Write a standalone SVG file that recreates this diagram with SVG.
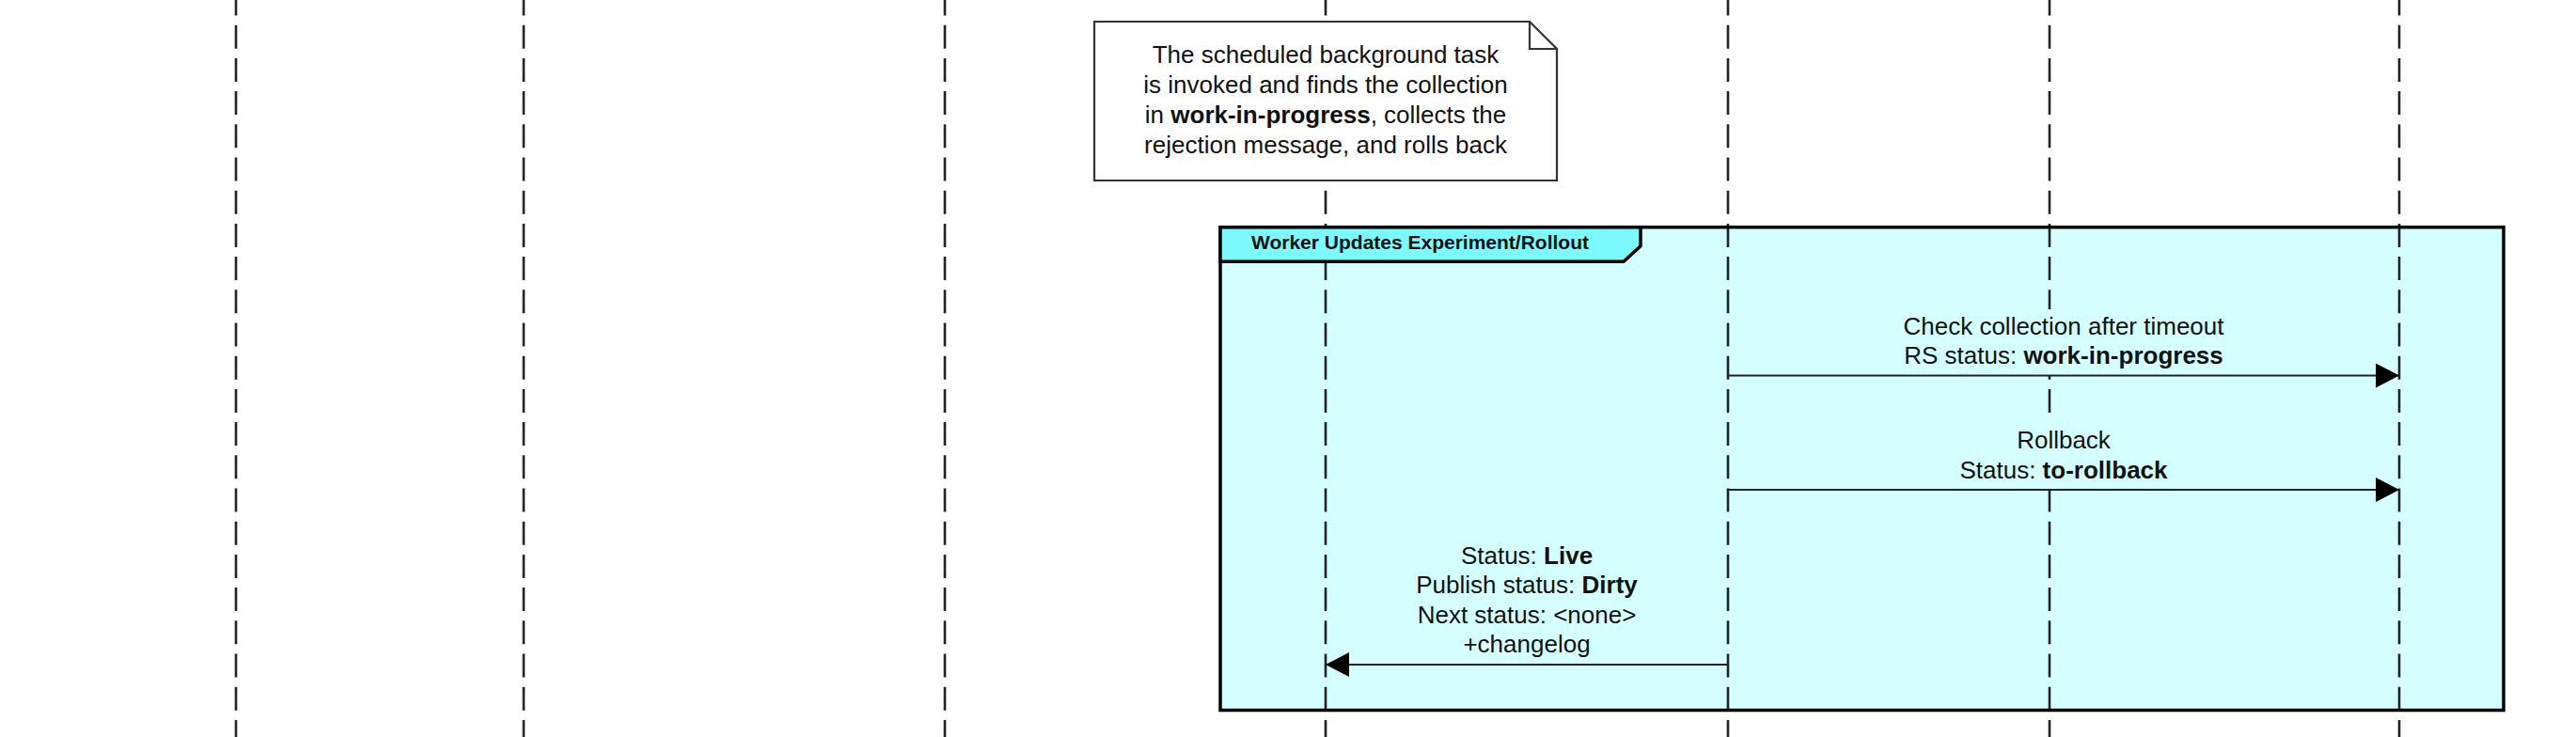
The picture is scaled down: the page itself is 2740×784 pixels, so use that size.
<svg xmlns="http://www.w3.org/2000/svg" width="2740" height="784" viewBox="0 0 2740 784">
<style>
  text { font-family: "Liberation Sans", Arial, Helvetica, sans-serif; fill: #111; }
  .t { font-size: 26px; text-anchor: middle; }
  .b { font-weight: bold; }
  .hdr { font-size: 21px; font-weight: bold; }
  .life { stroke: #222; stroke-width: 2.6; stroke-dasharray: 25 10.2; stroke-dashoffset: 8.5; fill: none; }
  .msg { stroke: #222; stroke-width: 2.2; fill: none; marker-end: url(#arrow); }
  .lblbg { fill: #D5FFFF; stroke: none; }
</style>
<defs>
  <marker id="arrow" viewBox="0 0 25 26" refX="25" refY="13" markerWidth="25" markerHeight="26" markerUnits="userSpaceOnUse" orient="auto">
    <path d="M0,0 L25,13 L0,26 Z" fill="#000"/>
  </marker>
</defs>
<rect width="2740" height="784" fill="#fff"/>

<g id="frame-bg">
  <rect x="1298" y="241.7" width="1365" height="513.8" fill="#D5FFFF" stroke="none"/>
</g>

<g id="lifelines">
  <line class="life" x1="251" y1="0" x2="251" y2="784"/>
  <line class="life" x1="557" y1="0" x2="557" y2="784"/>
  <line class="life" x1="1005" y1="0" x2="1005" y2="784"/>
  <line class="life" x1="1410" y1="0" x2="1410" y2="784"/>
  <line class="life" x1="1838" y1="0" x2="1838" y2="784"/>
  <line class="life" x1="2180" y1="0" x2="2180" y2="784"/>
  <line class="life" x1="2552" y1="0" x2="2552" y2="784"/>
</g>

<g id="frame">
  <rect x="1298" y="241.7" width="1365" height="513.8" fill="none" stroke="#000" stroke-width="3.5"/>
  <path d="M1298,241.7 L1745,241.7 L1745,261.7 L1727,278.3 L1298,278.3 Z" fill="#7BF9FC" stroke="#000" stroke-width="3.5" stroke-linejoin="miter"/>
  <text class="hdr" x="1331" y="264.5">Worker Updates Experiment/Rollout</text>
</g>

<g id="note">
  <path d="M1164,23 L1627,23 L1656,52 L1656,192 L1164,192 Z" fill="#fff" stroke="#333" stroke-width="2.2"/>
  <path d="M1627,23 L1627,52 L1656,52" fill="none" stroke="#333" stroke-width="2.2"/>
  <text class="t" x="1410" y="66.7">The scheduled background task</text>
  <text class="t" x="1410" y="99">is invoked and finds the collection</text>
  <text class="t" x="1410" y="131">in <tspan class="b">work-in-progress</tspan>, collects the</text>
  <text class="t" x="1410" y="163.3">rejection message, and rolls back</text>
</g>

<g id="connectors">
  <g id="msg-check">
    <rect class="lblbg" x="2015" y="329" width="360" height="70"/>
    <line class="msg" x1="1838" y1="399.5" x2="2552" y2="399.5"/>
    <text class="t" x="2195" y="356">Check collection after timeout</text>
    <text class="t" x="2195" y="387">RS status: <tspan class="b">work-in-progress</tspan></text>
  </g>
  <g id="msg-rollback">
    <rect class="lblbg" x="2075" y="446" width="240" height="74"/>
    <line class="msg" x1="1838" y1="521" x2="2552" y2="521"/>
    <text class="t" x="2195" y="477">Rollback</text>
    <text class="t" x="2195" y="509">Status: <tspan class="b">to-rollback</tspan></text>
  </g>
  <g id="msg-live">
    <line class="msg" x1="1838" y1="707" x2="1410" y2="707"/>
    <text class="t" x="1624" y="599.5">Status: <tspan class="b">Live</tspan></text>
    <text class="t" x="1624" y="631">Publish status: <tspan class="b">Dirty</tspan></text>
    <text class="t" x="1624" y="662.5">Next status: &lt;none&gt;</text>
    <text class="t" x="1624" y="694">+changelog</text>
  </g>
</g>
</svg>
